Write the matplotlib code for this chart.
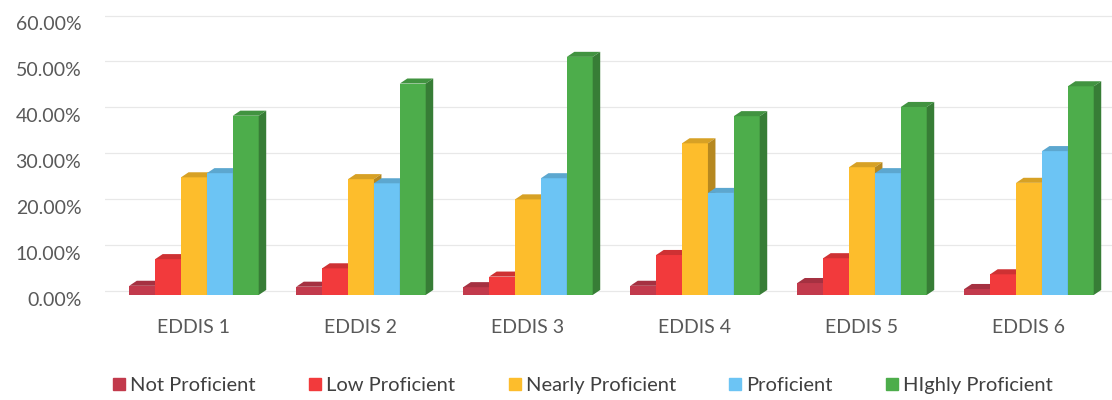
import matplotlib.pyplot as plt
from matplotlib.patches import Polygon
from matplotlib.lines import Line2D
from matplotlib.colors import to_rgb
from matplotlib.transforms import ScaledTranslation

plt.rcParams['font.family'] = ['Lato', 'DejaVu Sans']

categories = ['EDDIS 1', 'EDDIS 2', 'EDDIS 3', 'EDDIS 4', 'EDDIS 5', 'EDDIS 6']
series = ['Not Proficient', 'Low Proficient', 'Nearly Proficient', 'Proficient', 'HIghly Proficient']
not_prof = [0.020, 0.018, 0.017, 0.020, 0.026, 0.013]
low_prof = [0.078, 0.058, 0.040, 0.087, 0.080, 0.045]
nearly_prof = [0.256, 0.252, 0.208, 0.330, 0.278, 0.244]
proficient = [0.265, 0.243, 0.254, 0.222, 0.265, 0.313]
highly_prof = [0.390, 0.460, 0.518, 0.389, 0.409, 0.454]
values = [not_prof, low_prof, nearly_prof, proficient, highly_prof]
colors = ['#C23A4C', '#F23A3C', '#FDBD2C', '#6CC4F4', '#4DAD4B']
yticks = [0, 0.1, 0.2, 0.3, 0.4, 0.5, 0.6]


def shade(c, f):
    r, g, b = to_rgb(c)
    return (r * f, g * f, b * f)


fig = plt.figure(figsize=(11.12, 4), dpi=100)
ax = fig.add_axes([0.0944, 0.2625, 0.9056, 0.7125])
ax.set_xlim(-0.533, 5.497)
ax.set_ylim(0, 0.62)

# faint back-wall grid
for t in yticks:
    ax.axhline(t + 0.008, color='#e8e8e8', lw=0.9, zorder=0)

bw = 0.155
dx = 0.045
dy = 0.011
z = 2
for i in range(len(categories)):
    for k in range(len(series)):
        x0 = i + (k - 2) * bw - bw / 2
        h = values[k][i]
        c = colors[k]
        ax.bar(x0, h, width=bw, align='edge', color=c, zorder=z)
        top = Polygon([(x0, h), (x0 + bw, h), (x0 + bw + dx, h + dy), (x0 + dx, h + dy)],
                      closed=True, color=shade(c, 0.85), lw=0, zorder=z)
        side = Polygon([(x0 + bw, 0), (x0 + bw + dx, dy), (x0 + bw + dx, h + dy), (x0 + bw, h)],
                       closed=True, color=shade(c, 0.72), lw=0, zorder=z)
        ax.add_patch(top)
        ax.add_patch(side)
        z += 1

ax.set_yticks(yticks)
ax.set_yticklabels(['%.2f%%' % (t * 100) for t in yticks], fontsize=14, color='#595959')
ax.set_xticks(range(len(categories)))
ax.set_xticklabels(categories, fontsize=14, color='#595959')
ax.tick_params(axis='y', length=0, pad=17)
ax.tick_params(axis='x', length=0, pad=17)
for lab in ax.get_yticklabels():
    lab.set_transform(lab.get_transform() + ScaledTranslation(0, -4 / 100, fig.dpi_scale_trans))
for s in ax.spines.values():
    s.set_visible(False)

handles = [Line2D([], [], marker='s', ls='', color=c, markersize=9) for c in colors]
fig.legend(handles, series, loc='center', bbox_to_anchor=(0.523, 0.0375), ncol=5,
           frameon=False, fontsize=14.5, labelcolor='#404040', handletextpad=0.1,
           columnspacing=2.5, handlelength=0.9)

fig.savefig('out.png', dpi=100)
